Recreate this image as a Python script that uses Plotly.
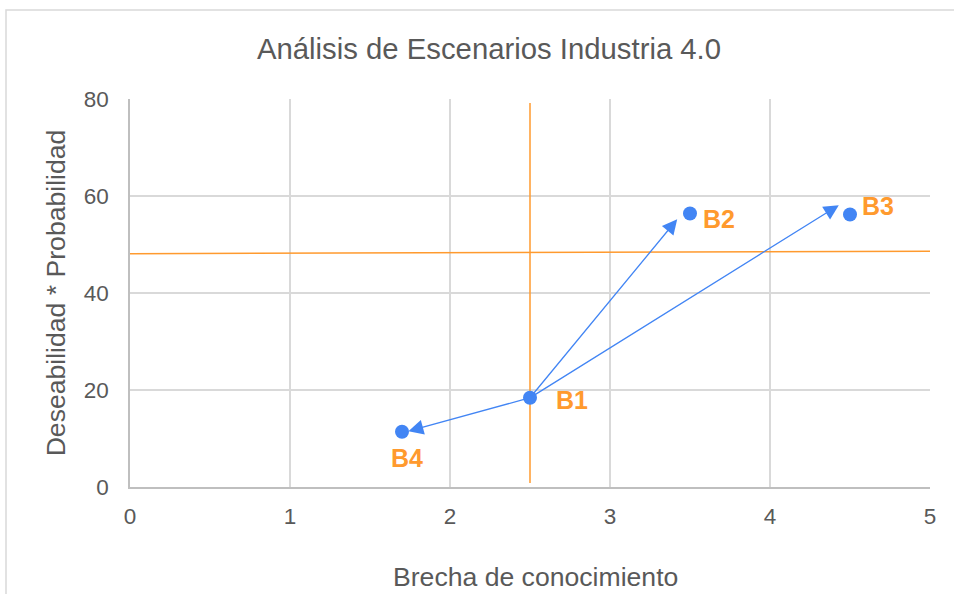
import plotly.graph_objects as go

# Scenario points
escenarios = ["B1", "B2", "B3", "B4"]
brecha = [2.5, 3.5, 4.5, 1.7]
deseab_prob = [18.4, 56.4, 56.2, 11.4]

# Transitions from B1 (arrow tips sit just short of each target)
origen = "B1"
destinos = ["B2", "B3", "B4"]
flecha_x = [3.42, 4.43, 1.74]
flecha_y = [55.2, 58.1, 11.5]

# Quadrant reference lines
ref_h_x = [0, 5]
ref_h_y = [48.1, 48.6]
ref_v_x = [2.5, 2.5]
ref_v_y = [0.8, 79.2]

# Axis ticks
x_ticks = [0, 1, 2, 3, 4, 5]
y_ticks = [0, 20, 40, 60, 80]

AZUL = "#4285F4"
NARANJA = "#FF9A2E"
GRIS_TXT = "#595959"
GRID = "#D9D9D9"
FONT = "Liberation Sans, Arial, sans-serif"

fig = go.Figure()

fig.add_trace(go.Scatter(x=ref_h_x, y=ref_h_y, mode="lines",
                         line=dict(color=NARANJA, width=1.5),
                         hoverinfo="skip", showlegend=False))
fig.add_trace(go.Scatter(x=ref_v_x, y=ref_v_y, mode="lines",
                         line=dict(color=NARANJA, width=1.5),
                         hoverinfo="skip", showlegend=False))

fig.add_trace(go.Scatter(x=brecha, y=deseab_prob, mode="markers",
                         marker=dict(color=AZUL, size=14),
                         text=escenarios, showlegend=False))

i0 = escenarios.index(origen)
for d, tx, ty in zip(destinos, flecha_x, flecha_y):
    fig.add_annotation(x=tx, y=ty, ax=brecha[i0], ay=deseab_prob[i0],
                       xref="x", yref="y", axref="x", ayref="y",
                       text="", showarrow=True, arrowhead=2,
                       arrowsize=2.3, arrowwidth=1.3, arrowcolor=AZUL)

# Point labels (pixel offsets from each marker)
offsets = {"B1": (24, -2, "left"), "B2": (11, -6, "left"),
           "B3": (10, 8, "left"), "B4": (5, -26, "center")}
for n, x, y in zip(escenarios, brecha, deseab_prob):
    dx, dy, anc = offsets[n]
    fig.add_annotation(x=x, y=y, xref="x", yref="y", text=f"<b>{n}</b>",
                       showarrow=False, xanchor=anc, yanchor="middle",
                       xshift=dx, yshift=dy,
                       font=dict(family=FONT, size=25, color=NARANJA))

# X axis title, centred a little right of the plot middle
fig.add_annotation(text="Brecha de conocimiento", xref="paper", yref="paper",
                   x=(535 - 130) / 800, y=-(577 - 487) / 388,
                   xanchor="center", yanchor="middle", showarrow=False,
                   font=dict(family=FONT, size=26.6, color=GRIS_TXT))

# Chart border
fig.add_shape(type="rect", xref="paper", yref="paper",
              x0=-130/800 + 6/800, x1=1.05, y0=-0.5, y1=1 + 89/388,
              line=dict(color="#D9D9D9", width=1.5), layer="below")

fig.update_layout(
    width=954, height=594,
    margin=dict(l=130, r=24, t=99, b=107),
    paper_bgcolor="white", plot_bgcolor="white",
    font=dict(family=FONT, color=GRIS_TXT),
    title=dict(text="Análisis de Escenarios Industria 4.0",
               x=489/954, xref="container", xanchor="center",
               y=1 - 49/594, yanchor="middle",
               font=dict(size=29.3, color=GRIS_TXT)),
    xaxis=dict(range=[0, 5], tickvals=x_ticks, showgrid=True,
               gridcolor=GRID, gridwidth=1.5, zeroline=False,
               showline=True, linecolor="#BFBFBF", linewidth=1.5,
               tickfont=dict(size=22.5, color=GRIS_TXT),
               ticks="", ticklabelstandoff=8, automargin=False),
    yaxis=dict(range=[0, 80], tickvals=y_ticks, showgrid=True,
               gridcolor=GRID, gridwidth=1.5, zeroline=False,
               showline=True, linecolor="#BFBFBF", linewidth=1.5,
               tickfont=dict(size=22.5, color=GRIS_TXT),
               ticks="", ticklabelstandoff=15, automargin=False,
               title=dict(text="Deseabilidad * Probabilidad", standoff=10,
                          font=dict(size=26.6, color=GRIS_TXT))),
)

fig.write_html("out.html")
